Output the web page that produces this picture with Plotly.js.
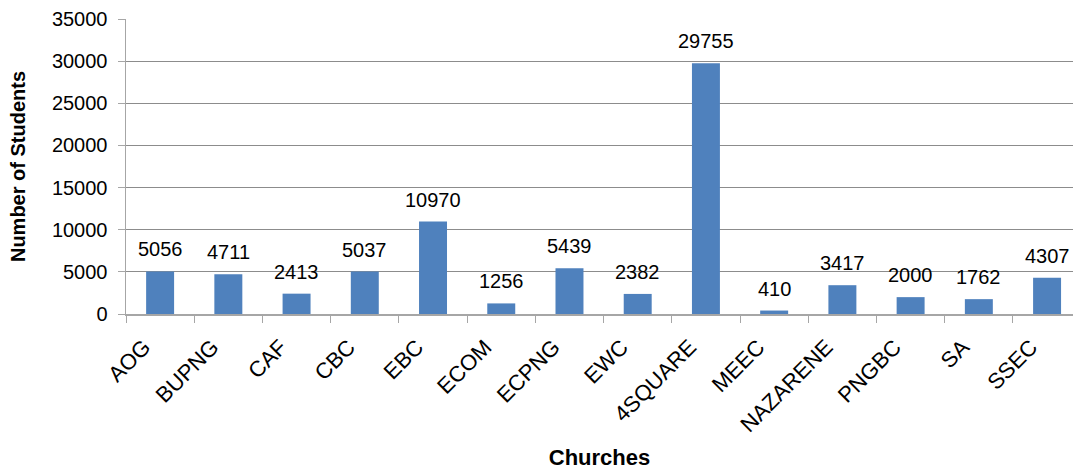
<!DOCTYPE html>
<html>
<head>
<meta charset="utf-8">
<script src="https://cdn.plot.ly/plotly-3.0.1.min.js"></script>
<style>html,body{margin:0;padding:0;background:#fff;}#chart{width:1073px;height:470px;}</style>
</head>
<body>
<div id="chart"></div>
<script>
var churches = ["AOG","BUPNG","CAF","CBC","EBC","ECOM","ECPNG","EWC","4SQUARE","MEEC","NAZARENE","PNGBC","SA","SSEC"];
var students = [5056,4711,2413,5037,10970,1256,5439,2382,29755,410,3417,2000,1762,4307];
var yTicks = [0,5000,10000,15000,20000,25000,30000,35000];

var FONT = "Liberation Sans, Arial, sans-serif";

var trace = {
  type: "bar",
  x: churches,
  y: students,
  marker: {color: "#4F81BD"},
  hoverinfo: "x+y"
};

var annotations = churches.map(function(c, i){
  return {
    x: c, y: students[i], xref: "x", yref: "y",
    text: String(students[i]),
    showarrow: false, yanchor: "bottom", yshift: 9,
    font: {family: FONT, size: 20, color: "#000"}
  };
});

var layout = {
  width: 1073, height: 470,
  margin: {l: 126, r: 0, t: 19, b: 156},
  paper_bgcolor: "#fff", plot_bgcolor: "#fff",
  bargap: 0.59,
  showlegend: false,
  font: {family: FONT, color: "#000"},
  xaxis: {
    type: "category",
    range: [-0.5, 13.38],
    tickangle: -45,
    tickfont: {family: FONT, size: 22, color: "#000"},
    ticks: "outside", ticklen: 7, tickcolor: "#a6a6a6", tickson: "boundaries",
    ticklabelshift: -16, ticklabelstandoff: 10,
    showline: true, linecolor: "#a6a6a6", linewidth: 1.5,
    showgrid: false,
    title: {text: "<b>Churches</b>", font: {family: FONT, size: 22, color: "#000"}, standoff: 22}
  },
  yaxis: {
    range: [0, 35000],
    tickvals: yTicks,
    ticktext: yTicks.map(String),
    tickfont: {family: FONT, size: 20, color: "#000"},
    ticks: "outside", ticklen: 7, tickcolor: "#a6a6a6",
    ticklabelstandoff: 6,
    showline: true, linecolor: "#a6a6a6", linewidth: 1.5,
    showgrid: true, gridcolor: "#8c8c8c", gridwidth: 1,
    zeroline: false,
    title: {text: "<b>Number of Students</b>", font: {family: FONT, size: 20, color: "#000"}, standoff: 21}
  },
  annotations: annotations
};

Plotly.newPlot("chart", [trace], layout, {displayModeBar: false, staticPlot: true});
</script>
</body>
</html>
